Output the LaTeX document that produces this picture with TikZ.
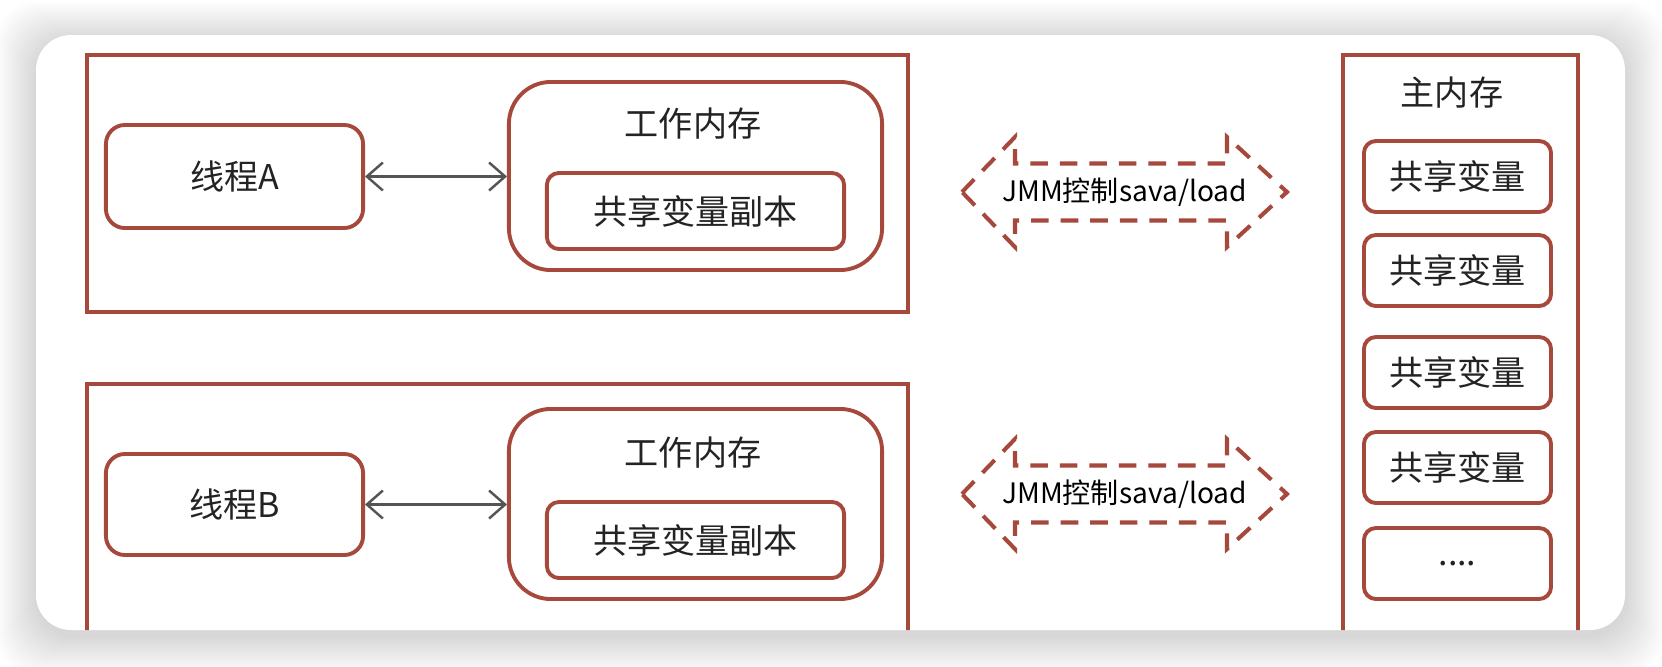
\documentclass[tikz,border=0pt]{standalone}
\usepackage{fontspec}
\setmainfont{Noto Sans CJK SC}
\usepackage{tikz}
\usetikzlibrary{arrows.meta}
\usepackage{xcolor}
\definecolor{boxred}{RGB}{167,72,60}
\definecolor{linkgray}{RGB}{85,85,85}
\definecolor{inkgray}{RGB}{35,35,35}

\begin{document}
\begin{tikzpicture}[x=0.01cm,y=-0.01cm,>={Straight Barb[length=1.6mm,width=2.8mm]},
  outer/.style={draw=boxred,line width=1pt,inner sep=0pt,anchor=north west},
  rbox/.style={draw=boxred,line width=1.1pt,rounded corners=#1,inner sep=0pt,
    text=inkgray,font=\fontsize{9.7}{11}\selectfont},
  lbl/.style={inner sep=0pt,text=inkgray,font=\fontsize{9.7}{11}\selectfont},
  jmm/.style={inner sep=0pt,text=black,font=\fontsize{8}{10}\selectfont},
  dashline/.style={draw=boxred,line width=1.15pt,dash pattern=on 5pt off 3.4pt},
  link/.style={<->,draw=linkgray,line width=0.7pt}]
\useasboundingbox (0,0) rectangle (1662,666);
\fill[white] (0,0) rectangle (1662,666);
\foreach \i in {1,...,40}
  \fill[black,opacity=0.004,rounded corners=0.4cm] (36-\i,35-\i+6) rectangle (1625+\i,630+\i+6);
\fill[white,rounded corners=0.35cm] (36,35) rectangle (1625,630);
\begin{scope}
\clip[rounded corners=0.35cm] (36,35) rectangle (1625,630);
\node[outer,minimum width=8.21cm,minimum height=2.57cm] (boxA) at (85,53) {};
\node[outer,minimum width=8.21cm,minimum height=3.18cm] (boxB) at (85,382) {};
\node[outer,minimum width=2.35cm,minimum height=6.47cm] (mem) at (1341,53) {};
\end{scope}
\node[rbox=0.19cm,minimum width=2.57cm,minimum height=1.03cm] (thA) at (234.5,176.5) {线程A};
\node[rbox=0.19cm,minimum width=2.57cm,minimum height=1.01cm] (thB) at (234.5,504.5) {线程B};
\node[rbox=0.42cm,minimum width=3.73cm,minimum height=1.88cm] (wmA) at (695.5,176) {};
\node[rbox=0.42cm,minimum width=3.73cm,minimum height=1.90cm] (wmB) at (695.5,504) {};
\node[lbl] (wlA) at (693,124) {工作内存};
\node[lbl] (wlB) at (693,453) {工作内存};
\node[rbox=0.12cm,minimum width=2.97cm,minimum height=0.76cm] (cpA) at (695.5,211) {共享变量副本};
\node[rbox=0.12cm,minimum width=2.97cm,minimum height=0.76cm] (cpB) at (695.5,540) {共享变量副本};
\draw[link] (thA.east) -- (thA.east -| wmA.west);
\draw[link] (thB.east) -- (thB.east -| wmB.west);
\node[lbl] (mlbl) at (1452,93) {主内存};
\foreach \y [count=\k] in {176.5,270.5,372.5,467.5}
  \node[rbox=0.12cm,minimum width=1.87cm,minimum height=0.71cm] (var\k) at (1457.5,\y) {共享变量};
\node[rbox=0.12cm,minimum width=1.87cm,minimum height=0.71cm] (var5) at (1457.5,563.5) {....};
\node[jmm] (jA) at (1124.5,192) {JMM控制sava/load};
\node[jmm] (jB) at (1124.5,494) {JMM控制sava/load};
\foreach \n in {jA,jB}
  \draw[dashline,shift={(\n.center)}] (-162.5,0) -- (-109.5,-55) -- (-109.5,-28.5) -- (102.5,-28.5)
    -- (102.5,-55) -- (162.5,0) -- (102.5,55) -- (102.5,28.5) -- (-109.5,28.5) -- (-109.5,55) -- cycle;
\end{tikzpicture}
\end{document}
